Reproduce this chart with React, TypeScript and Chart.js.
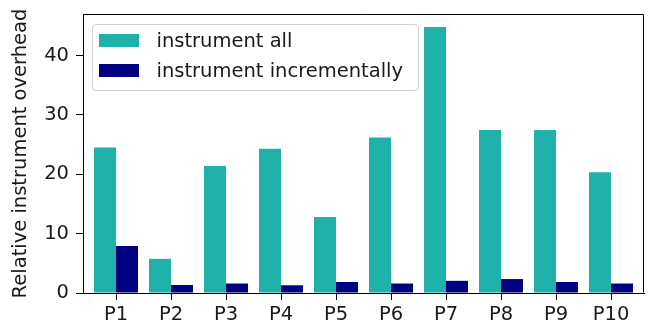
import React, { useEffect, useRef } from 'react';
import { Chart, registerables } from 'chart.js';

Chart.register(...registerables);

const categories = ['P1', 'P2', 'P3', 'P4', 'P5', 'P6', 'P7', 'P8', 'P9', 'P10'];
const instrumentAll = [24.5, 5.75, 21.4, 24.3, 12.8, 26.2, 44.8, 27.45, 27.45, 20.35];
const instrumentIncrementally = [7.9, 1.35, 1.6, 1.3, 1.85, 1.6, 2.05, 2.35, 1.85, 1.6];
const seriesNames = ['instrument all', 'instrument incrementally'];
const seriesColors = ['#20B2AA', '#000080'];
const yTicks = [0, 10, 20, 30, 40];
const yTitle = 'Relative instrument overhead';

const FONT = '"DejaVu Sans", sans-serif';
const TEXT = '#1a1a1a';

const framePlugin = {
  id: 'frame',
  afterDraw(chart: any) {
    const { ctx, chartArea } = chart;
    const l = Math.round(chartArea.left) + 0.5;
    const t = Math.round(chartArea.top) + 0.5;
    const r = Math.round(chartArea.right) - 0.5;
    const b = Math.round(chartArea.bottom) - 0.5;
    ctx.save();
    ctx.strokeStyle = '#000';
    ctx.lineWidth = 1;
    ctx.beginPath();
    ctx.moveTo(l, t);
    ctx.lineTo(r, t);
    ctx.lineTo(r, b);
    ctx.stroke();
    ctx.restore();
  },
};

const zeroPad = (s: any) => {
  s.paddingTop = 0;
  s.paddingBottom = 0;
  s.paddingLeft = 0;
  s.paddingRight = 0;
};

export default function App() {
  const canvasRef = useRef<HTMLCanvasElement | null>(null);

  useEffect(() => {
    const canvas = canvasRef.current;
    if (!canvas) return;
    const chart = new Chart(canvas, {
      type: 'bar',
      data: {
        datasets: [
          {
            label: seriesNames[0],
            data: instrumentAll.map((v, i) => ({ x: i, y: v })),
            backgroundColor: seriesColors[0],
            borderWidth: 0,
          },
          {
            label: seriesNames[1],
            data: instrumentIncrementally.map((v, i) => ({ x: i, y: v })),
            backgroundColor: seriesColors[1],
            borderWidth: 0,
          },
        ],
      },
      options: {
        responsive: false,
        animation: false,
        layout: { padding: { left: 0, top: 14, right: 8, bottom: 0 } },
        datasets: { bar: { barPercentage: 1, categoryPercentage: 0.8 } },
        plugins: { legend: { display: false }, tooltip: { enabled: false } },
        scales: {
          x: {
            type: 'linear',
            min: -0.6,
            max: 9.6,
            offset: false,
            afterFit: (s: any) => { s.height = 35; zeroPad(s); },
            afterBuildTicks: (s: any) => { s.ticks = categories.map((_, i) => ({ value: i })); },
            grid: { offset: false, drawOnChartArea: false, drawTicks: true, tickLength: 7, color: '#000', tickWidth: 1 },
            border: { display: true, color: '#000', width: 1 },
            ticks: {
              padding: 3,
              color: TEXT,
              font: { family: FONT, size: 19.5 },
              maxRotation: 0,
              autoSkip: false,
              callback: (v: any) => categories[Math.round(Number(v))] ?? '',
            },
          },
          y: {
            type: 'linear',
            min: 0,
            max: 47,
            afterFit: (s: any) => { s.width = 83; zeroPad(s); },
            afterBuildTicks: (s: any) => { s.ticks = yTicks.map((v) => ({ value: v })); },
            grid: { drawOnChartArea: false, drawTicks: true, tickLength: 7, color: '#000', tickWidth: 1 },
            border: { display: true, color: '#000', width: 1 },
            ticks: { padding: 7, color: TEXT, font: { family: FONT, size: 19.5 } },
            title: {
              display: true,
              text: yTitle,
              color: TEXT,
              font: { family: FONT, size: 19.5 },
              padding: { top: 9, bottom: 0 },
            },
          },
        },
      },
      plugins: [framePlugin],
    } as any);
    return () => chart.destroy();
  }, []);

  const rowTops = [0, 30];
  return (
    <div style={{ position: 'absolute', left: 0, top: 0, width: 652, height: 328, background: '#fff' }}>
      <canvas ref={canvasRef} width={652} height={328} style={{ width: 652, height: 328, display: 'block' }} />
      <div
        style={{
          position: 'absolute',
          left: 92,
          top: 24,
          width: 327,
          height: 67,
          boxSizing: 'border-box',
          border: '1px solid #d3d3d3',
          borderRadius: 4,
          background: 'rgba(255,255,255,0.8)',
          fontFamily: FONT,
          fontSize: 19.5,
          color: TEXT,
        }}
      >
        {seriesNames.map((name, i) => (
          <React.Fragment key={name}>
            <div
              style={{
                position: 'absolute',
                left: 6,
                top: 9 + rowTops[i],
                width: 40,
                height: 13,
                background: seriesColors[i],
              }}
            />
            <div
              style={{
                position: 'absolute',
                left: 63.5,
                top: 4 + rowTops[i],
                lineHeight: '23px',
                whiteSpace: 'nowrap',
              }}
            >
              {name}
            </div>
          </React.Fragment>
        ))}
      </div>
    </div>
  );
}
